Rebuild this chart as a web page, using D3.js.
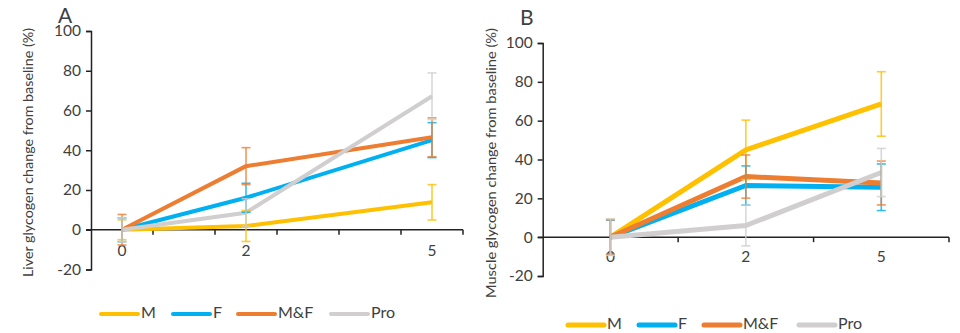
<!DOCTYPE html>
<html>
<head>
<meta charset="utf-8">
<script src="https://cdn.jsdelivr.net/npm/d3@7"></script>
<style>
  body { margin: 0; background: #fff; }
  svg { display: block; }
  text { font-family: Lato, "Open Sans", sans-serif; fill: #404040; }
</style>
</head>
<body>
<svg id="chart" width="960" height="333"></svg>
<script>
// Sampling days and series
const days = [0, 2, 5];
const seriesNames = ["M", "F", "M&F", "Pro"];
const seriesColors = ["#FFC000", "#00B0F0", "#ED7D31", "#D0CECE"];
const yTicks = [-20, 0, 20, 40, 60, 80, 100];

// Liver glycogen change (%) with error (±)
const liverM = [0, 1.9, 13.8];
const liverF = [0, 16.1, 45.1];
const liverMF = [0, 32.0, 46.5];
const liverPro = [0, 8.6, 67.2];
const liverErrM = [5.0, 7.8, 8.9];
const liverErrF = [6.0, 7.3, 8.8];
const liverErrMF = [7.7, 9.3, 9.8];
const liverErrPro = [6.0, 7.0, 11.7];

// Muscle glycogen change (%) with error (±)
const muscleM = [0, 45.0, 68.6];
const muscleF = [0, 26.6, 25.7];
const muscleMF = [0, 31.2, 27.9];
const musclePro = [0, 6.0, 33.3];
const muscleErrM = [9.2, 15.3, 16.6];
const muscleErrF = [8.8, 10.1, 12.0];
const muscleErrMF = [9.0, 11.1, 11.3];
const muscleErrPro = [9.4, 10.5, 12.4];

const svg = d3.select("#chart");

function drawPanel(p) {
  const g = svg.append("g");
  const y = d3.scaleLinear().domain([-20, 100]).range([p.yBottom, p.yTop]);
  let x, boundaries;
  if (p.proportional) {
    // day axis with one slot per day (labels only at sampled days)
    x = d3.scaleLinear().domain([-0.5, 5.5]).range([p.xLeft, p.xRight]);
    boundaries = d3.range(-0.5, 6, 1).map(x);
  } else {
    const band = d3.scaleBand().domain(days.map(String)).range([p.xLeft, p.xRight]);
    x = d => band(String(d)) + band.bandwidth() / 2;
    boundaries = days.map(d => band(String(d))).concat([p.xRight]);
  }

  // y axis
  const yAxis = d3.axisLeft(y).tickValues(yTicks).tickSize(5).tickPadding(5)
    .tickFormat(d => String(d));
  const ya = g.append("g").attr("transform", `translate(${p.xLeft},0)`).call(yAxis);
  ya.select(".domain").attr("stroke", "#222").attr("stroke-width", 1.5);
  ya.selectAll(".tick line").attr("stroke", "#222").attr("stroke-width", 1.5);
  ya.selectAll(".tick text").attr("font-size", 15.5).attr("fill", "#404040")
    .attr("font-family", "Lato, sans-serif");

  // x axis along zero with tick marks on the slot boundaries
  const y0 = y(0);
  g.append("line").attr("x1", p.xLeft - 5).attr("x2", p.xRight)
    .attr("y1", y0).attr("y2", y0).attr("stroke", "#222").attr("stroke-width", 1.5);
  g.selectAll("line.xt").data(boundaries.slice(1)).join("line")
    .attr("class", "xt")
    .attr("x1", d => d).attr("x2", d => d)
    .attr("y1", y0).attr("y2", y0 + 5).attr("stroke", "#222").attr("stroke-width", 1.5);
  g.selectAll("text.xl").data(days).join("text")
    .attr("class", "xl")
    .attr("x", d => x(d)).attr("y", y0 + p.xLabelOffset)
    .attr("text-anchor", "middle").attr("font-size", 15.5).text(d => d);

  // axis title and panel letter
  g.append("text")
    .attr("transform", `translate(${p.titleX},${(p.titleTop + p.titleBottom) / 2}) rotate(-90)`)
    .attr("text-anchor", "middle").attr("dominant-baseline", "middle")
    .attr("font-size", p.titleSize).attr("font-family", "Lato, sans-serif")
    .attr("textLength", p.titleBottom - p.titleTop).attr("lengthAdjust", "spacingAndGlyphs")
    .text(p.title);
  g.append("text").attr("x", p.letterX).attr("y", p.letterY)
    .attr("font-family", "'Liberation Serif', 'DejaVu Serif', serif")
    .attr("font-size", 21).attr("fill", "#000").text(p.letter);

  const line = d3.line().x((d, i) => x(days[i])).y(d => y(d));

  // series lines
  p.values.forEach((vals, s) => {
    g.append("path").datum(vals).attr("d", line)
      .attr("fill", "none").attr("stroke", seriesColors[s])
      .attr("stroke-width", p.lineWidth).attr("stroke-linejoin", "round");
  });

  // error bars
  p.values.forEach((vals, s) => {
    const eg = g.append("g").attr("stroke", seriesColors[s])
      .attr("stroke-width", 1.6).attr("stroke-opacity", 0.8);
    vals.forEach((v, i) => {
      const e = p.errors[s][i];
      const cx = x(days[i]);
      eg.append("line").attr("x1", cx).attr("x2", cx).attr("y1", y(v - e)).attr("y2", y(v + e));
      [v - e, v + e].forEach(c => {
        eg.append("line").attr("x1", cx - 4.5).attr("x2", cx + 4.5).attr("y1", y(c)).attr("y2", y(c));
      });
    });
  });

  // legend
  const lg = g.append("g");
  p.legendX.forEach((lx, s) => {
    lg.append("line").attr("x1", lx).attr("x2", lx + p.legendLen)
      .attr("y1", p.legendY).attr("y2", p.legendY)
      .attr("stroke", seriesColors[s]).attr("stroke-width", p.lineWidth)
      .attr("stroke-linecap", "round");
    lg.append("text").attr("x", lx + p.legendLen + 3).attr("y", p.legendY)
      .attr("dominant-baseline", "middle").attr("font-size", 16).text(seriesNames[s]);
  });
}

drawPanel({
  letter: "A", letterX: 58, letterY: 23,
  title: "Liver glycogen change from baseline (%)",
  titleX: 30, titleTop: 28, titleBottom: 277, titleSize: 13.5,
  xLeft: 91, xRight: 463, yTop: 31, yBottom: 269.5,
  proportional: true, xLabelOffset: 26,
  lineWidth: 4,
  values: [liverM, liverF, liverMF, liverPro],
  errors: [liverErrM, liverErrF, liverErrMF, liverErrPro],
  legendX: [101, 173, 238, 331], legendLen: 37, legendY: 314
});

drawPanel({
  letter: "B", letterX: 520, letterY: 25,
  title: "Muscle glycogen change from baseline (%)",
  titleX: 492, titleTop: 28, titleBottom: 298, titleSize: 14,
  xLeft: 542.7, xRight: 949, yTop: 43, yBottom: 276,
  proportional: false, xLabelOffset: 25,
  lineWidth: 5,
  values: [muscleM, muscleF, muscleMF, musclePro],
  errors: [muscleErrM, muscleErrF, muscleErrMF, muscleErrPro],
  legendX: [568, 639, 704, 799], legendLen: 36, legendY: 325
});
</script>
</body>
</html>
